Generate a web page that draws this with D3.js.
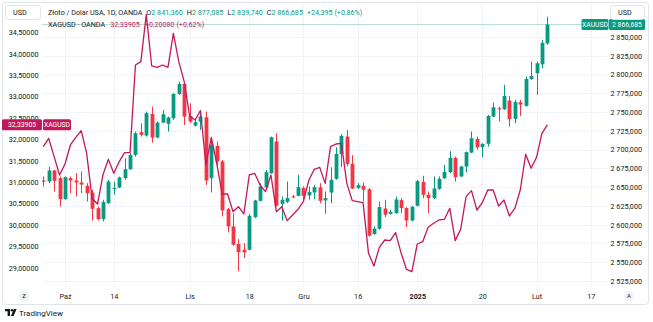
<!DOCTYPE html>
<html><head><meta charset="utf-8">
<script src="https://cdn.jsdelivr.net/npm/d3@7"></script>
<style>
body{margin:0;background:#fff;}
svg{display:block;font-family:Roboto,"Liberation Sans",sans-serif;}
</style>
</head><body>
<svg id="c" width="653" height="322"></svg>
<script>
const openP=[2658.9,2657.5,2672.2,2662.0,2634.0,2662.0,2658.9,2656.2,2651.8,2642.9,
2622.1,2607.4,2628.7,2647.8,2649.6,2662.0,2673.9,2693.0,2723.2,2718.7,
2747.6,2716.1,2736.0,2734.3,2741.8,2774.2,2787.5,2744.9,2732.0,2737.4,
2743.1,2662.0,2705.0,2684.2,2620.7,2597.7,2574.2,2566.6,2566.6,2610.1,
2631.8,2649.6,2668.6,2710.8,2627.8,2630.5,2637.6,2638.5,2648.7,2638.9,
2642.9,2649.6,2632.3,2642.9,2661.1,2694.3,2717.4,2681.0,2649.1,2651.8,
2647.3,2587.5,2594.6,2621.6,2614.5,2615.4,2632.7,2622.1,2605.6,2625.2,
2657.1,2639.8,2635.4,2647.8,2662.0,2670.0,2689.0,2664.2,2677.5,2696.1,
2714.3,2703.2,2707.7,2744.0,2755.1,2753.8,2765.3,2740.9,2763.1,2758.2,
2794.1,2801.7,2813.6,2841.36];
const highP=[2664.2,2677.5,2673.1,2664.2,2664.2,2664.2,2668.6,2670.9,2655.3,2646.5,
2624.3,2633.2,2659.8,2657.5,2664.2,2688.6,2695.2,2724.1,2735.2,2750.7,
2757.3,2737.4,2752.9,2744.0,2775.1,2790.6,2789.3,2761.7,2739.6,2750.7,
2750.7,2715.2,2710.8,2686.4,2622.1,2615.4,2580.8,2575.5,2614.5,2633.2,
2655.3,2673.1,2717.4,2721.8,2637.6,2657.5,2639.8,2666.4,2650.9,2650.9,
2653.1,2655.3,2644.2,2676.6,2703.2,2720.5,2726.3,2692.6,2655.3,2656.2,
2648.7,2597.7,2630.9,2633.2,2619.9,2637.6,2635.4,2623.4,2625.2,2659.8,
2665.1,2644.2,2664.2,2664.2,2679.7,2697.9,2690.8,2678.4,2697.5,2724.1,
2717.4,2708.5,2746.2,2762.6,2757.3,2786.2,2771.5,2766.2,2766.2,2797.2,
2817.2,2817.2,2846.0,2877.085];
const lowP=[2650.9,2655.3,2644.2,2624.3,2633.2,2642.0,2637.6,2642.0,2630.9,2605.6,
2605.6,2604.3,2627.8,2639.8,2648.7,2659.8,2673.1,2690.8,2717.4,2717.4,
2709.4,2715.2,2735.2,2724.1,2739.6,2772.9,2732.9,2735.2,2730.7,2726.3,
2653.1,2642.9,2675.3,2611.0,2589.7,2572.0,2537.8,2555.6,2565.8,2608.8,
2630.9,2648.7,2667.7,2624.3,2605.6,2628.7,2635.4,2637.6,2633.2,2633.2,
2634.0,2628.7,2614.5,2628.7,2659.8,2676.6,2677.5,2647.3,2647.3,2630.9,
2584.4,2586.6,2593.3,2610.1,2613.2,2614.5,2615.4,2596.8,2604.3,2624.3,
2635.4,2615.4,2634.0,2646.5,2660.7,2668.6,2657.5,2663.3,2669.5,2695.2,
2699.7,2689.9,2704.1,2743.1,2737.4,2752.9,2730.7,2735.2,2744.9,2757.3,
2792.8,2772.9,2808.3,2839.74];
const closeP=[2657.1,2672.2,2658.4,2634.0,2663.3,2658.9,2656.2,2653.5,2642.0,2621.2,
2607.4,2630.1,2657.5,2649.1,2662.9,2673.9,2693.0,2721.8,2719.6,2748.5,
2716.1,2736.0,2747.1,2742.7,2774.2,2787.5,2744.0,2737.4,2736.5,2744.0,
2658.9,2706.3,2684.2,2619.0,2597.7,2573.3,2563.5,2563.1,2611.9,2632.3,
2650.9,2670.0,2716.5,2625.2,2633.2,2635.4,2636.5,2650.0,2638.5,2643.8,
2650.0,2631.8,2635.4,2659.8,2694.3,2718.3,2681.0,2648.2,2652.7,2646.5,
2585.3,2594.6,2623.4,2613.2,2617.2,2633.6,2622.1,2605.6,2623.8,2658.0,
2639.8,2635.4,2648.2,2661.1,2670.4,2689.0,2663.3,2677.5,2696.6,2715.2,
2703.2,2707.7,2744.9,2756.4,2753.8,2771.5,2740.5,2763.5,2760.0,2794.1,
2798.1,2815.0,2842.3,2866.685];
const silver=[31.828,32.023,31.594,31.166,31.423,31.867,32.046,32.202,31.672,30.621,
30.488,31.166,31.532,31.205,31.477,31.688,31.688,33.736,33.814,34.92,
33.713,33.681,33.736,33.681,34.476,33.814,33.347,32.544,32.451,32.669,
31.400,32.046,31.439,30.722,30.722,30.309,30.426,30.255,31.166,31.205,
30.932,30.777,31.166,30.309,30.426,30.099,30.231,30.364,30.551,31.049,
31.298,31.345,30.971,31.828,31.890,31.906,30.971,30.566,30.543,30.520,
29.336,29.040,29.476,29.647,29.632,29.819,29.351,28.962,28.908,29.554,
29.608,29.943,30.037,30.115,30.130,30.387,29.632,29.896,30.660,30.800,
30.348,30.520,30.816,30.816,30.442,30.582,30.208,30.387,30.816,31.649,
31.322,31.579,32.140,32.339];
const timeLabels=["Paź","14","Lis","18","Gru","16","2025","20","Lut","17"];
const timeIndex=[4,13,27,38,48,58,69,81,91,101];
const goldTicks=[2525,2550,2575,2600,2625,2650,2675,2700,2725,2750,2775,2800,2825,2850];
const silverTicks=[29,29.5,30,30.5,31,31.5,32,32.5,33,33.5,34,34.5];
const goldLast=2866.685, silverLast=32.33905;

const GREEN="#089981", RED="#f23645", PINK="#c2185b", TXT="#131722", GRID="#f0f3fa";
const svg=d3.select("#c");
const x=d3.scaleLinear().domain([0,101]).range([43.3,590.72]);
const yG=d3.scaleLinear().domain([2525,2850]).range([281,37]);
const yS=d3.scaleLinear().domain([29,34.5]).range([267.7,32.3]);
const fmtG=v=>d3.format(",.3f")(v).replace(/,/g," ").replace(".",",");
const fmtS=v=>v.toFixed(5).replace(".",",");

// frame
svg.append("rect").attr("x",2.5).attr("y",2.5).attr("width",646).attr("height",302)
  .attr("rx",3).attr("fill","none").attr("stroke","#e0e3eb");

// grid
const grid=svg.append("g");
grid.selectAll("line.h").data(goldTicks).join("line")
  .attr("x1",42).attr("x2",607).attr("y1",d=>Math.round(yG(d))+0.5).attr("y2",d=>Math.round(yG(d))+0.5)
  .attr("stroke",GRID);
grid.selectAll("line.v").data(timeIndex).join("line")
  .attr("y1",3).attr("y2",287).attr("x1",d=>Math.round(x(d))+0.5).attr("x2",d=>Math.round(x(d))+0.5)
  .attr("stroke",GRID);

// clip
svg.append("clipPath").attr("id","pane").append("rect").attr("x",42).attr("y",3).attr("width",566).attr("height",284);
const pane=svg.append("g").attr("clip-path","url(#pane)");

// price line
pane.append("line").attr("x1",42).attr("x2",582).attr("y1",yG(goldLast)).attr("y2",yG(goldLast))
  .attr("stroke",GREEN).attr("stroke-opacity",0.3);

// candles
const idx=d3.range(openP.length);
const cg=pane.append("g");
cg.selectAll("line").data(idx).join("line")
  .attr("x1",i=>Math.round(x(i))+0.5).attr("x2",i=>Math.round(x(i))+0.5)
  .attr("y1",i=>yG(highP[i])).attr("y2",i=>yG(lowP[i]))
  .attr("stroke",i=>closeP[i]>=openP[i]?GREEN:RED).attr("stroke-width",1);
cg.selectAll("rect").data(idx).join("rect")
  .attr("x",i=>Math.round(x(i))+0.5-1.9).attr("width",3.8)
  .attr("y",i=>yG(Math.max(openP[i],closeP[i])))
  .attr("height",i=>Math.max(1,Math.abs(yG(openP[i])-yG(closeP[i]))))
  .attr("fill",i=>closeP[i]>=openP[i]?GREEN:RED);

// silver line
pane.append("path").datum(silver)
  .attr("d",d3.line().x((d,i)=>x(i)).y(d=>yS(d)))
  .attr("fill","none").attr("stroke",PINK).attr("stroke-width",1.3).attr("stroke-linejoin","round");

// axes
const fs=7.2;
const ra=svg.append("g").attr("transform","translate(642,0)")
  .call(d3.axisLeft(yG).tickValues(goldTicks).tickSize(0).tickPadding(0).tickFormat(fmtG));
ra.select(".domain").remove();
ra.selectAll("text").attr("font-size",fs).attr("fill",TXT).attr("font-family","Roboto,'Liberation Sans',sans-serif");
const la=svg.append("g").attr("transform","translate(38.5,0)")
  .call(d3.axisLeft(yS).tickValues(silverTicks).tickSize(0).tickPadding(0).tickFormat(fmtS));
la.select(".domain").remove();
la.selectAll("text").attr("font-size",fs).attr("fill",TXT).attr("font-family","Roboto,'Liberation Sans',sans-serif");
const ba=svg.append("g").attr("transform","translate(0,293)")
  .call(d3.axisBottom(x).tickValues(timeIndex).tickSize(0).tickPadding(0).tickFormat((d,i)=>timeLabels[i]));
ba.select(".domain").remove();
ba.selectAll("text").attr("font-size",fs).attr("fill",TXT).attr("dy","0.35em").attr("y",3)
  .attr("font-family","Roboto,'Liberation Sans',sans-serif")
  .attr("font-weight",(d,i)=>timeLabels[i]==="2025"?"bold":"normal");

// price label boxes
function box(x0,w,yc,fill,label){
  svg.append("rect").attr("x",x0).attr("y",yc-5.5).attr("width",w).attr("height",11).attr("rx",1.5).attr("fill",fill);
  svg.append("text").attr("x",x0+w/2).attr("y",yc).attr("dy","0.35em").attr("text-anchor","middle")
    .attr("font-size",6.8).attr("fill","#fff").text(label);
}
box(2,40,yS(silverLast),PINK,fmtS(silverLast));
box(43,28,yS(silverLast),PINK,"XAGUSD");
box(581.5,27,yG(goldLast),GREEN,"XAUUSD");
box(609,36,yG(goldLast),GREEN,fmtG(goldLast));

// USD boxes
[[5,35],[610,34]].forEach(([bx,bw])=>{
  svg.append("rect").attr("x",bx+0.5).attr("y",5.5).attr("width",bw).attr("height",14).attr("rx",3)
    .attr("fill","#fff").attr("stroke","#e0e3eb");
  svg.append("text").attr("x",bx+8).attr("y",12.5).attr("dy","0.35em").attr("font-size",fs).attr("fill",TXT).text("USD");
});

// legend
const l1=svg.append("text").attr("x",48).attr("y",12.5).attr("dy","0.35em").attr("font-size",fs).attr("fill",TXT);
l1.append("tspan").text("Złoto / Dolar USA, 1D, OANDA");
[["O","2 841,360"],["H","2 877,085"],["L","2 839,740"],["C","2 866,685"]].forEach(([k,v])=>{
  l1.append("tspan").attr("dx",4).text(k);
  l1.append("tspan").attr("fill",GREEN).text(v);
});
l1.append("tspan").attr("dx",4).attr("fill",GREEN).text("+24,395 (+0,86%)");
const l2=svg.append("text").attr("x",48).attr("y",24.5).attr("dy","0.35em").attr("font-size",fs).attr("fill",TXT);
l2.append("tspan").text("XAGUSD · OANDA");
l2.append("tspan").attr("dx",5).attr("fill",PINK).text(fmtS(silverLast));
l2.append("tspan").attr("dx",5).attr("fill",PINK).text("+0,20080 (+0,62%)");

// bottom circles
[[24,"Z"],[629,"A"]].forEach(([cx,t])=>{
  svg.append("circle").attr("cx",cx).attr("cy",296).attr("r",5.5).attr("fill",GRID);
  svg.append("text").attr("x",cx).attr("y",296).attr("dy","0.35em").attr("text-anchor","middle")
    .attr("font-size",6).attr("fill",TXT).text(t);
});

// logo
const lg=svg.append("g").attr("fill",TXT);
lg.append("path").attr("d","M5,309 H10 V316 H7.6 V311.3 H5 Z");
lg.append("circle").attr("cx",11.9).attr("cy",310.2).attr("r",1.2);
lg.append("path").attr("d","M13.8,309 H16.6 L13.6,316 H10.9 Z");
svg.append("text").attr("x",19).attr("y",312.7).attr("dy","0.35em").attr("font-size",8).attr("fill",TXT).text("TradingView");
</script>
</body></html>
